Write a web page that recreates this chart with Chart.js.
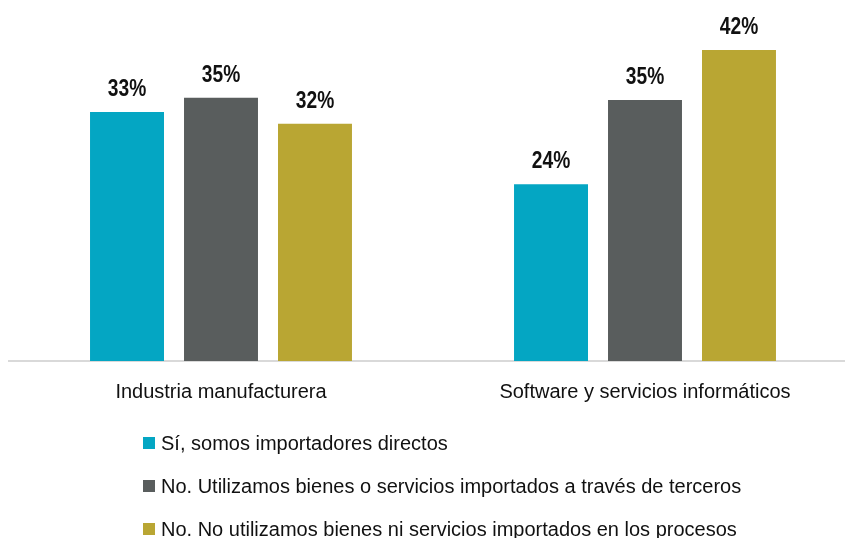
<!DOCTYPE html>
<html>
<head>
<meta charset="utf-8">
<script src="https://cdn.jsdelivr.net/npm/chart.js@4/dist/chart.umd.min.js"></script>
<style>
  html, body { margin: 0; padding: 0; background: #fff; overflow: hidden; }
  #wrap { position: relative; width: 860px; height: 538px; }
</style>
</head>
<body>
<div id="wrap"><canvas id="c"></canvas></div>
<script>
const categories = ["Industria manufacturera", "Software y servicios informáticos"];
const seriesLabels = [
  "Sí, somos importadores directos",
  "No. Utilizamos bienes o servicios importados a través de terceros",
  "No. No utilizamos bienes ni servicios importados en los procesos"
];
const directos = [33.4, 23.7];
const terceros = [35.3, 35.0];
const noImporta = [31.8, 41.7];
const colors = ["#04A6C3", "#595D5D", "#B9A633"];

const FONT = "'Liberation Sans', Arial, sans-serif";

const valueLabels = {
  id: 'valueLabels',
  afterDatasetsDraw(chart) {
    const ctx = chart.ctx;
    const sx = 0.8;
    chart.data.datasets.forEach((ds, i) => {
      const meta = chart.getDatasetMeta(i);
      meta.data.forEach((el, j) => {
        ctx.save();
        ctx.translate(el.x, el.y - 16);
        ctx.scale(sx, 1);
        ctx.font = "bold 24px " + FONT;
        ctx.fillStyle = "#111111";
        ctx.textAlign = "center";
        ctx.textBaseline = "alphabetic";
        ctx.fillText(Math.round(ds.data[j]) + "%", 0, 0);
        ctx.restore();
      });
    });
  }
};

const sideLegend = {
  id: 'sideLegend',
  afterDraw(chart) {
    const ctx = chart.ctx;
    ctx.save();
    ctx.font = "20px " + FONT;
    ctx.textAlign = "left";
    ctx.textBaseline = "alphabetic";
    chart.data.datasets.forEach((ds, i) => {
      const base = 450 + i * 43;
      ctx.fillStyle = ds.backgroundColor;
      ctx.fillRect(143, base - 13, 12, 12);
      ctx.fillStyle = "#111111";
      ctx.fillText(ds.label, 161, base);
    });
    ctx.restore();
  }
};

new Chart(document.getElementById('c'), {
  type: 'bar',
  data: {
    labels: categories,
    datasets: [
      { label: seriesLabels[0], data: directos, backgroundColor: colors[0] },
      { label: seriesLabels[1], data: terceros, backgroundColor: colors[1] },
      { label: seriesLabels[2], data: noImporta, backgroundColor: colors[2] }
    ]
  },
  options: {
    responsive: true,
    maintainAspectRatio: false,
    animation: false,
    layout: { padding: { top: 3, left: 9, right: 3, bottom: 0 } },
    datasets: { bar: { categoryPercentage: 0.665, barPercentage: 0.787 } },
    plugins: { legend: { display: false }, tooltip: { enabled: false } },
    scales: {
      x: {
        grid: { display: false, drawTicks: false },
        border: { display: true, color: "#d9d9d9", width: 2 },
        ticks: { color: "#111111", font: { family: FONT, size: 20 }, padding: 19, maxRotation: 0 },
        afterFit(scale) { scale.height = 177; }
      },
      y: { display: false, min: 0, max: 48 }
    }
  },
  plugins: [valueLabels, sideLegend]
});
</script>
</body>
</html>
